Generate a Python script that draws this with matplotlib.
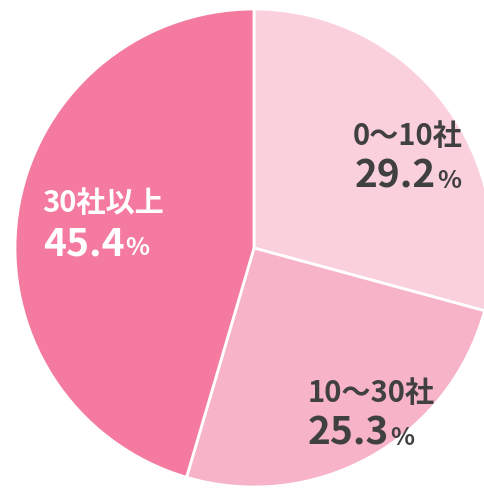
import matplotlib
matplotlib.use("Agg")
import matplotlib.pyplot as plt

categories = ["0〜10社", "10〜30社", "30社以上"]
values = [29.2, 25.3, 45.4]
colors = ["#FAD0DC", "#F7B3C7", "#F47B9F"]
text_colors = ["#404040", "#404040", "#FFFFFF"]

W, H = 485, 488
fig = plt.figure(figsize=(W / 100, H / 100), dpi=100)
ax = fig.add_axes([0, 0, 1, 1])

ax.pie(values, colors=colors, startangle=90, counterclock=False,
       center=(254, H - 248), radius=239,
       wedgeprops=dict(edgecolor="white", linewidth=2))
ax.set_xlim(0, W)
ax.set_ylim(0, H)
ax.set_aspect("equal")
ax.axis("off")

fam = ["Noto Sans CJK JP", "DejaVu Sans"]
# label positions (image px: left x, baseline of label, baseline of percent)
pos = [(353, 145, 355, 188), (308, 402, 308, 445), (42, 212, 43, 255)]

fig.canvas.draw()
renderer = fig.canvas.get_renderer()
for cat, val, tc, (lx, ly, px, py) in zip(categories, values, text_colors, pos):
    ax.text(lx, H - ly, cat, ha="left", va="baseline", fontsize=21,
            fontweight="bold", color=tc, family=fam)
    t = ax.text(px, H - py, f"{val:.1f}", ha="left", va="baseline", fontsize=28,
                fontweight="bold", color=tc, family=fam)
    bb = t.get_window_extent(renderer)
    x1 = ax.transData.inverted().transform((bb.x1, bb.y0))[0]
    ax.text(x1 + 1, H - py, "%", ha="left", va="baseline", fontsize=18,
            fontweight="bold", color=tc, family=fam)

fig.savefig("out.png", dpi=100)
